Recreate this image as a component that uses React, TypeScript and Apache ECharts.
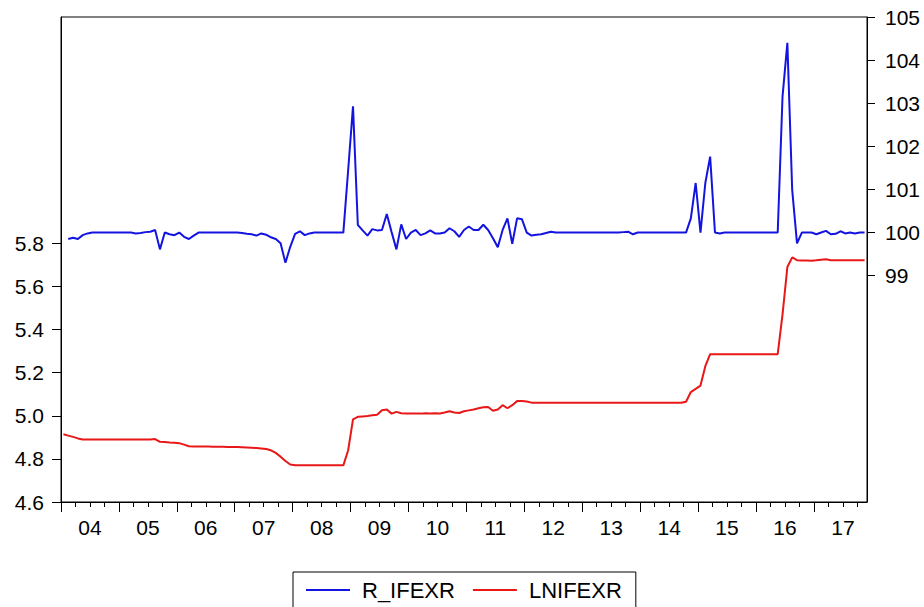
import React, { useEffect, useRef } from "react";
import * as echarts from "echarts";

// Monthly observations, 2004M01 .. 2017M11 (167 months)
const yearLabels = ["04", "05", "06", "07", "08", "09", "10", "11", "12", "13", "14", "15", "16", "17"];
const monthCount = 167;
const leftTicks = [4.6, 4.8, 5.0, 5.2, 5.4, 5.6, 5.8];
const rightTicks = [99, 100, 101, 102, 103, 104, 105];

// R_IFEXR (right axis), starts 2004M02
const rIfexr: (number | null)[] = [
  null, 99.85, 99.88, 99.85, 99.94, 99.98, 100.0, 100.0, 100.0, 100.0,
  100.0, 100.0, 100.0, 100.0, 100.0, 99.98, 99.99, 100.01, 100.02, 100.06,
  99.61, 100.0, 99.96, 99.94, 100.0, 99.9, 99.85, 99.93, 100.0, 100.0,
  100.0, 100.0, 100.0, 100.0, 100.0, 100.0, 100.0, 99.99, 99.97, 99.96,
  99.93, 99.98, 99.95, 99.89, 99.85, 99.75, 99.3, 99.67, 99.97, 100.03,
  99.94, 99.98, 100.0, 100.0, 100.0, 100.0, 100.0, 100.0, 100.0, 101.45,
  102.93, 100.18, 100.05, 99.93, 100.08, 100.05, 100.06, 100.43, 100.01, 99.61,
  100.19, 99.85, 100.0, 100.06, 99.94, 99.98, 100.05, 99.98, 99.98, 100.0,
  100.1, 100.03, 99.9, 100.06, 100.14, 100.06, 100.06, 100.18, 100.06, 99.87,
  99.66, 100.06, 100.33, 99.74, 100.33, 100.31, 100.0, 99.93, 99.95, 99.96,
  99.99, 100.02, 100.0, 100.0, 100.0, 100.0, 100.0, 100.0, 100.0, 100.0,
  100.0, 100.0, 100.0, 100.0, 100.0, 100.0, 100.01, 100.02, 99.96, 100.0,
  100.0, 100.0, 100.0, 100.0, 100.0, 100.0, 100.0, 100.0, 100.0, 100.0,
  100.33, 101.15, 100.0, 101.15, 101.76, 100.0, 99.98, 100.0, 100.0, 100.0,
  100.0, 100.0, 100.0, 100.0, 100.0, 100.0, 100.0, 100.0, 100.0, 103.16,
  104.4, 100.99, 99.75, 100.0, 100.0, 100.0, 99.96, 100.0, 100.04, 99.96,
  99.97, 100.03, 99.98, 100.0, 99.98, 100.0, 100.0,
];

// LNIFEXR (left axis)
const lnIfexr: number[] = [
  4.914, 4.908, 4.902, 4.895, 4.89, 4.89, 4.89, 4.89, 4.89, 4.89,
  4.89, 4.89, 4.89, 4.89, 4.89, 4.89, 4.89, 4.89, 4.89, 4.892,
  4.879, 4.878, 4.876, 4.875, 4.873, 4.866, 4.859, 4.858, 4.857, 4.857,
  4.857, 4.856, 4.856, 4.856, 4.855, 4.855, 4.855, 4.854, 4.853, 4.852,
  4.85, 4.848, 4.846, 4.84, 4.828, 4.81, 4.79, 4.774, 4.771, 4.77,
  4.77, 4.77, 4.77, 4.77, 4.77, 4.77, 4.77, 4.77, 4.77, 4.84,
  4.983, 4.995, 4.997, 4.999, 5.002, 5.005, 5.026, 5.029, 5.01, 5.018,
  5.012, 5.011, 5.01, 5.011, 5.01, 5.012, 5.011, 5.012, 5.011, 5.015,
  5.021, 5.015, 5.013, 5.021, 5.025, 5.029, 5.035, 5.04, 5.041, 5.023,
  5.029, 5.049, 5.035, 5.049, 5.068, 5.068, 5.066, 5.061, 5.06, 5.06,
  5.06, 5.06, 5.06, 5.06, 5.06, 5.06, 5.06, 5.06, 5.06, 5.06,
  5.06, 5.06, 5.06, 5.06, 5.06, 5.06, 5.06, 5.06, 5.06, 5.06,
  5.06, 5.06, 5.06, 5.06, 5.06, 5.06, 5.06, 5.06, 5.06, 5.065,
  5.11, 5.125, 5.14, 5.23, 5.286, 5.286, 5.286, 5.286, 5.286, 5.286,
  5.286, 5.286, 5.286, 5.286, 5.286, 5.286, 5.286, 5.286, 5.286, 5.47,
  5.69, 5.735, 5.722, 5.72, 5.72, 5.719, 5.721, 5.724, 5.726, 5.722,
  5.722, 5.722, 5.722, 5.722, 5.722, 5.722, 5.722,
];

const FONT = "'Liberation Sans', Arial, sans-serif";

export default function App() {
  const ref = useRef<HTMLDivElement>(null);

  useEffect(() => {
    if (!ref.current) return;
    const chart = echarts.init(ref.current, undefined, { renderer: "svg" });

    const majorTicks = yearLabels.map((_, k) => k * 12);
    const labelPos = yearLabels.map((_, k) => k * 12 + 6);
    const minorTicks: number[] = [];
    for (let m = 3; m < monthCount; m += 3) if (m % 12 !== 0) minorTicks.push(m);

    const toXY = (arr: (number | null)[]) => arr.map((v, i) => [i + 0.5, v]);

    chart.setOption({
      animation: false,
      backgroundColor: "#fff",
      grid: {
        left: 61,
        right: 57,
        top: 17,
        bottom: 105,
        show: true,
        borderColor: "#000",
        borderWidth: 1,
        containLabel: false,
      },
      legend: {
        data: ["R_IFEXR", "LNIFEXR"],
        left: 293,
        top: 572,
        orient: "horizontal",
        borderColor: "#000",
        borderWidth: 1,
        padding: [7, 14, 40, 13],
        itemWidth: 44,
        itemHeight: 2,
        itemGap: 18,
        icon: "rect",
        textStyle: { fontSize: 22, color: "#000", fontFamily: FONT, padding: [0, 0, 0, 7] },
      },
      xAxis: [
        {
          type: "value",
          min: 0,
          max: monthCount,
          position: "bottom",
          axisLine: { show: true, onZero: false, lineStyle: { color: "#000", width: 1 } },
          axisTick: { show: true, inside: false, length: 10, customValues: majorTicks, lineStyle: { color: "#000" } },
          axisLabel: {
            show: true,
            customValues: labelPos,
            margin: 15,
            fontSize: 21,
            color: "#000",
            fontFamily: FONT,
            formatter: (v: number) => yearLabels[Math.round((v - 6) / 12)] ?? "",
          },
          splitLine: { show: false },
        },
        {
          type: "value",
          min: 0,
          max: monthCount,
          position: "bottom",
          axisLine: { show: false, onZero: false },
          axisTick: { show: true, inside: false, length: 5, customValues: minorTicks, lineStyle: { color: "#000" } },
          axisLabel: { show: false },
          splitLine: { show: false },
        },
      ],
      yAxis: [
        {
          type: "value",
          min: 4.6,
          max: 6.85,
          position: "left",
          axisLine: { show: true, onZero: false, lineStyle: { color: "#000", width: 1 } },
          axisTick: { show: true, inside: false, length: 9, customValues: leftTicks, lineStyle: { color: "#000" } },
          axisLabel: {
            show: true,
            customValues: leftTicks,
            margin: 17,
            fontSize: 21,
            color: "#000",
            fontFamily: FONT,
            formatter: (v: number) => v.toFixed(1),
          },
          splitLine: { show: false },
        },
        {
          type: "value",
          min: 93.75,
          max: 105,
          position: "right",
          axisLine: { show: true, onZero: false, lineStyle: { color: "#000", width: 1 } },
          axisTick: { show: true, inside: false, length: 8, customValues: rightTicks, lineStyle: { color: "#000" } },
          axisLabel: {
            show: true,
            customValues: rightTicks,
            margin: 18,
            fontSize: 21,
            color: "#000",
            fontFamily: FONT,
            formatter: (v: number) => String(Math.round(v)),
          },
          splitLine: { show: false },
        },
      ],
      series: [
        {
          name: "R_IFEXR",
          type: "line",
          xAxisIndex: 0,
          yAxisIndex: 1,
          data: toXY(rIfexr),
          showSymbol: false,
          symbol: "none",
          connectNulls: false,
          lineStyle: { color: "#1414e0", width: 2 },
          itemStyle: { color: "#1414e0" },
        },
        {
          name: "LNIFEXR",
          type: "line",
          xAxisIndex: 0,
          yAxisIndex: 0,
          data: toXY(lnIfexr),
          showSymbol: false,
          symbol: "none",
          lineStyle: { color: "#e81818", width: 2 },
          itemStyle: { color: "#e81818" },
        },
      ],
    });

    return () => chart.dispose();
  }, []);

  return (
    <div
      ref={ref}
      style={{ position: "absolute", left: 0, top: 0, width: 924, height: 607, background: "#fff" }}
    />
  );
}
